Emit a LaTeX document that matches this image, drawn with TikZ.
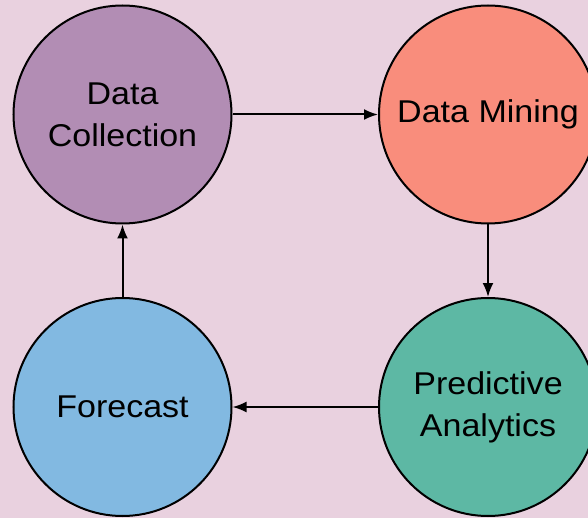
\documentclass[tikz,border=0pt]{standalone}
\usepackage{fontspec}
\setmainfont{Liberation Sans}[FakeStretch=1.08]
\usetikzlibrary{arrows.meta}

\definecolor{bgpink}{RGB}{233,209,223}
\definecolor{collectfill}{RGB}{178,141,180}
\definecolor{miningfill}{RGB}{249,141,124}
\definecolor{forecastfill}{RGB}{130,185,225}
\definecolor{predictfill}{RGB}{93,184,164}

\tikzset{
  stage/.style={circle, draw=black, line width=2pt, minimum size=218pt,
    inner sep=0pt, align=center, font=\fontsize{31.5}{42}\selectfont},
  flow/.style={line width=2pt, -{Latex[length=14pt,width=11pt]}}
}

\begin{document}
\begin{tikzpicture}[x=1pt, y=-1pt]
\def\xl{122.5};
\def\xr{488};
\def\yt{114.5};
\def\yb{407};

\fill[bgpink] (0,0) rectangle (588,518);
\useasboundingbox (0,0) rectangle (588,518);

\node[stage, fill=collectfill] (collect) at (\xl, \yt) {Data\\Collection};
\node[stage, fill=miningfill] (mining) at (\xr, \yt) {Data Mining};
\node[stage, fill=predictfill] (predict) at (\xr, \yb) {Predictive\\Analytics};
\node[stage, fill=forecastfill] (forecast) at (\xl, \yb) {Forecast};

\draw[flow] (collect) -- (mining);
\draw[flow] (mining) -- (predict);
\draw[flow] (predict) -- (forecast);
\draw[flow] (forecast) -- (collect);

\end{tikzpicture}
\end{document}
